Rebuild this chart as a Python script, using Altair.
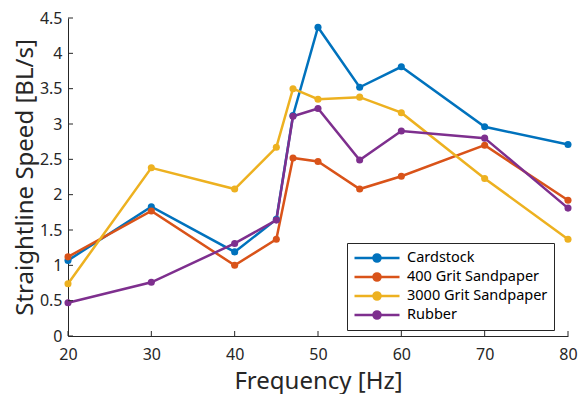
import altair as alt
import pandas as pd

freq = [20, 30, 40, 45, 47, 50, 55, 60, 70, 80]
cardstock = [1.07, 1.83, 1.19, 1.65, 3.12, 4.37, 3.52, 3.81, 2.96, 2.71]
grit400 = [1.12, 1.77, 1.00, 1.37, 2.52, 2.47, 2.08, 2.26, 2.70, 1.92]
grit3000 = [0.74, 2.38, 2.08, 2.67, 3.50, 3.35, 3.38, 3.16, 2.23, 1.37]
rubber = [0.47, 0.76, 1.31, 1.64, 3.11, 3.22, 2.49, 2.90, 2.80, 1.81]

series_names = ["Cardstock", "400 Grit Sandpaper", "3000 Grit Sandpaper", "Rubber"]
series_vals = [cardstock, grit400, grit3000, rubber]
colors = ["#0072BD", "#D95319", "#EDB120", "#7E2F8E"]

x_ticks = [20, 30, 40, 50, 60, 70, 80]
y_ticks = [0, 0.5, 1, 1.5, 2, 2.5, 3, 3.5, 4, 4.5]

rows = []
for name, vals in zip(series_names, series_vals):
    for f, v in zip(freq, vals):
        rows.append({"Frequency": f, "Speed": v, "Series": name})
df = pd.DataFrame(rows)

W, H = 500, 318
FONT = "Noto Sans"
TXT = "#262626"

xscale = alt.Scale(domain=[20, 80], nice=False, zero=False)
yscale = alt.Scale(domain=[0, 4.5], nice=False)

legend_path = ("M-1,0 H5 M2.47,0 A0.47,0.47 0 1,1 1.53,0 "
               "A0.47,0.47 0 1,1 2.47,0 Z")

color = alt.Color(
    "Series:N",
    scale=alt.Scale(domain=series_names, range=colors),
    legend=alt.Legend(
        title=None, orient="none", legendX=279, legendY=225,
        symbolType=legend_path, symbolSize=225, symbolStrokeWidth=2.5,
        labelFont=FONT, labelFontSize=14.5,
        labelColor="#000000", strokeColor=TXT, fillColor="white",
        padding=6, rowPadding=1, labelOffset=36, labelLimit=300,
    ),
)

xax = alt.Axis(values=x_ticks, ticks=False, grid=False, labelPadding=10,
               labelFlush=False, labelOverlap=False,
               title="Frequency [Hz]", titlePadding=7, format="d")
yax = alt.Axis(values=y_ticks, ticks=False, grid=False, labelPadding=6,
               labelFlush=False, labelOverlap=False,
               title="Straightline Speed [BL/s]", titlePadding=2,
               format="~g")

base = alt.Chart(df)
lines = base.mark_line(strokeWidth=2.5).encode(
    x=alt.X("Frequency:Q", scale=xscale, axis=xax),
    y=alt.Y("Speed:Q", scale=yscale, axis=yax),
    color=color,
)
points = base.mark_circle(size=50, opacity=1).encode(
    x=alt.X("Frequency:Q", scale=xscale, axis=xax),
    y=alt.Y("Speed:Q", scale=yscale, axis=yax),
    color=alt.Color("Series:N", scale=alt.Scale(domain=series_names, range=colors), legend=None),
)

xt = alt.Chart(pd.DataFrame({"t": x_ticks})).mark_rule(color=TXT, strokeWidth=1).encode(
    x=alt.X("t:Q", scale=xscale, axis=xax), y=alt.value(H), y2=alt.value(H - 5)
)
yt = alt.Chart(pd.DataFrame({"t": y_ticks})).mark_rule(color=TXT, strokeWidth=1).encode(
    y=alt.Y("t:Q", scale=yscale, axis=yax), x=alt.value(0), x2=alt.value(5)
)

chart = alt.layer(lines, points, xt, yt).properties(
    width=W, height=H,
    autosize=alt.AutoSizeParams(type="none"),
    padding={"left": 60, "top": 10, "right": 10, "bottom": 58},
).configure_view(stroke=None).configure_axis(
    domainColor=TXT, domainWidth=1, labelFont=FONT, labelFontSize=16,
    labelColor=TXT, titleFont=FONT, titleFontSize=24, titleColor=TXT,
    titleFontWeight="normal",
)

chart.save("out.html", embed_options={"renderer": "svg", "actions": False})
